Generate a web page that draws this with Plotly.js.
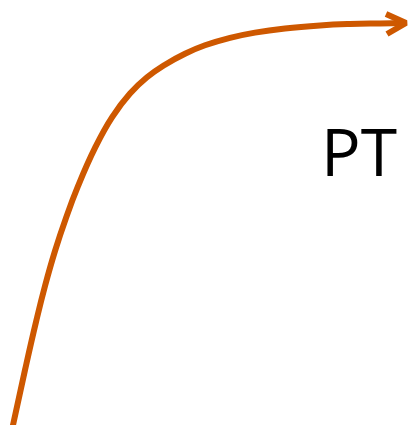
<!DOCTYPE html>
<html><head><meta charset="utf-8">
<script src="https://cdn.plot.ly/plotly-3.0.1.min.js"></script>
<style>html,body{margin:0;padding:0;background:#fff;}#chart{width:411px;height:425px;}</style>
</head><body><div id="chart"></div>
<script>
// Curve values (x, y) in chart units (y measured up from bottom)
var curveX = [11.3, 13, 25, 36, 45, 55, 66, 78, 95, 112, 130, 147, 165, 185, 205, 230, 255, 285, 320, 350, 380, 405];
var curveY = [-8, 0, 55, 103, 139, 174, 207, 238.8, 277.1, 307.7, 331.5, 347.7, 360.3, 371.3, 379.7, 387.2, 392.4, 396.6, 399.6, 401, 401.6, 402];
// Arrowhead chevron
var arrowX = [386, 406, 387];
var arrowY = [411, 402, 391];
var labels = ["PT"];
var labelX = [359];
var labelY = [275];

var color = "rgb(206,88,0)";
var data = [
  {x: curveX, y: curveY, mode: "lines", line: {color: color, width: 6, shape: "spline", smoothing: 1.3, simplify: false}, hoverinfo: "skip"},
  {x: arrowX, y: arrowY, mode: "lines", line: {color: color, width: 6, simplify: false}, hoverinfo: "skip"}
];
var layout = {
  width: 411, height: 425,
  margin: {l: 0, r: 0, t: 0, b: 0},
  paper_bgcolor: "#fff", plot_bgcolor: "#fff",
  showlegend: false,
  xaxis: {range: [0, 411], visible: false, fixedrange: true},
  yaxis: {range: [0, 425], visible: false, fixedrange: true},
  annotations: [{x: labelX[0], y: labelY[0], text: labels[0], showarrow: false,
    xanchor: "center", yanchor: "middle",
    font: {family: "Open Sans, sans-serif", size: 66, color: "#000"}}]
};
Plotly.newPlot("chart", data, layout, {staticPlot: true, displayModeBar: false});
</script>
</body></html>
